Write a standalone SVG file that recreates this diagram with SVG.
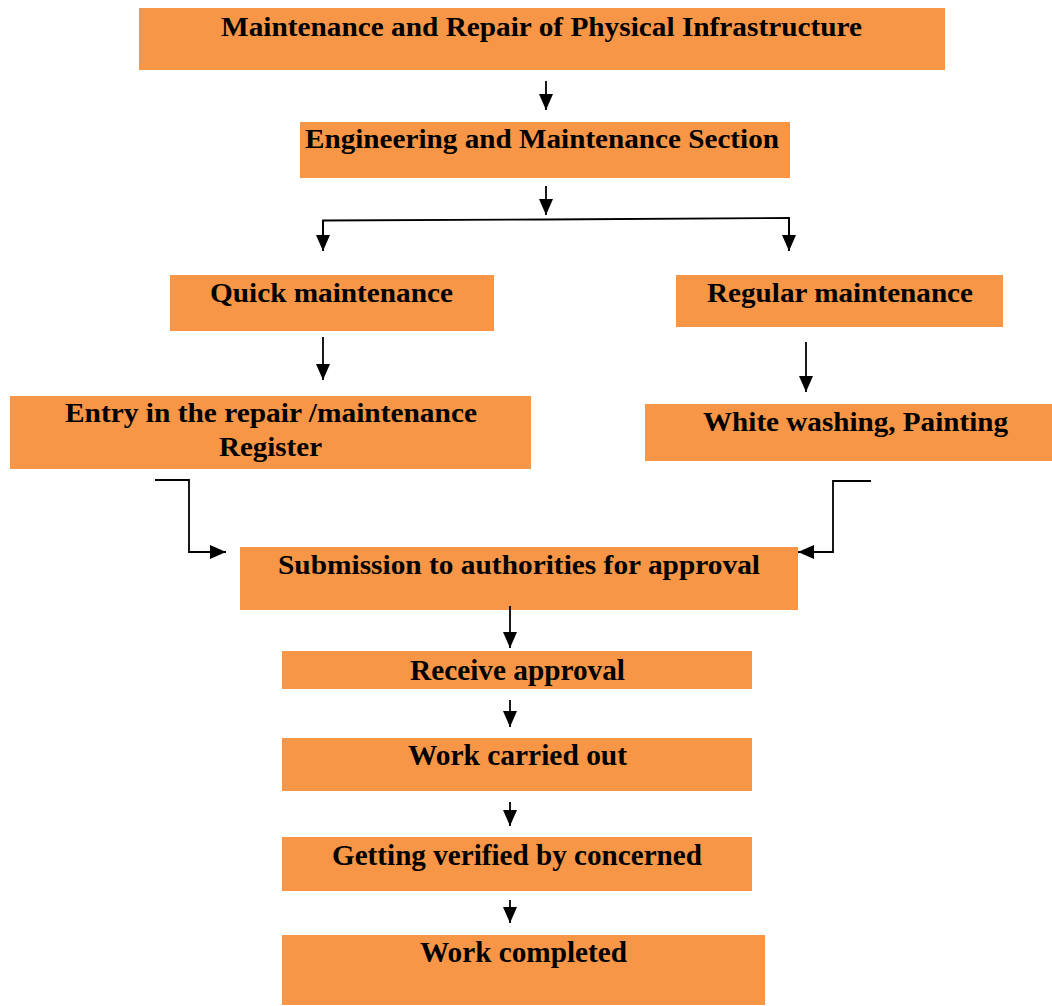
<svg xmlns="http://www.w3.org/2000/svg" width="1052" height="1006" viewBox="0 0 1052 1006">
<style>
.box{fill:#F79646}
.t{font-family:"Liberation Serif","Times New Roman",serif;font-weight:bold;fill:#000;text-anchor:middle}
.a{fill:none;stroke:#000;stroke-width:1.8}
</style>
<defs>
<marker id="ah" viewBox="0 0 16 14" refX="16" refY="7" markerWidth="16" markerHeight="14" markerUnits="userSpaceOnUse" orient="auto">
<path d="M0,0 L16,7 L0,14 Z" fill="#000"/>
</marker>
</defs>
<rect width="1052" height="1006" fill="#fff"/>
<g id="n1"><rect class="box" x="139" y="8" width="806" height="62"/><text class="t" x="541.5" y="36" font-size="27" textLength="641" lengthAdjust="spacingAndGlyphs">Maintenance and Repair of Physical Infrastructure</text></g>
<g id="n2"><rect class="box" x="300" y="122" width="490" height="56"/><text class="t" x="542" y="148" font-size="27" textLength="474" lengthAdjust="spacingAndGlyphs">Engineering and Maintenance Section</text></g>
<g id="n3"><rect class="box" x="170" y="275" width="324" height="56"/><text class="t" x="331.5" y="302" font-size="27" textLength="243" lengthAdjust="spacingAndGlyphs">Quick maintenance</text></g>
<g id="n4"><rect class="box" x="676" y="275" width="327" height="52"/><text class="t" x="840" y="302" font-size="27" textLength="266" lengthAdjust="spacingAndGlyphs">Regular maintenance</text></g>
<g id="n5"><rect class="box" x="10" y="396" width="521" height="73"/><text class="t" x="271" y="422" font-size="27" textLength="412" lengthAdjust="spacingAndGlyphs">Entry in the repair /maintenance</text><text class="t" x="270.5" y="456" font-size="27" textLength="103" lengthAdjust="spacingAndGlyphs">Register</text></g>
<g id="n6"><rect class="box" x="645" y="404" width="407" height="57"/><text class="t" x="855.5" y="431" font-size="27" textLength="305" lengthAdjust="spacingAndGlyphs">White washing, Painting</text></g>
<g id="n7"><rect class="box" x="240" y="547" width="558" height="63"/><text class="t" x="519" y="574" font-size="27" textLength="482" lengthAdjust="spacingAndGlyphs">Submission to authorities for approval</text></g>
<g id="n8"><rect class="box" x="282" y="651" width="470" height="38"/><text class="t" x="517.5" y="680" font-size="29" textLength="215" lengthAdjust="spacingAndGlyphs">Receive approval</text></g>
<g id="n9"><rect class="box" x="282" y="738" width="470" height="53"/><text class="t" x="517.5" y="765" font-size="29" textLength="219" lengthAdjust="spacingAndGlyphs">Work carried out</text></g>
<g id="n10"><rect class="box" x="282" y="837" width="470" height="54"/><text class="t" x="517" y="865" font-size="29" textLength="370" lengthAdjust="spacingAndGlyphs">Getting verified by concerned</text></g>
<g id="n11"><rect class="box" x="282" y="935" width="483" height="70"/><text class="t" x="523.5" y="962" font-size="29" textLength="207" lengthAdjust="spacingAndGlyphs">Work completed</text></g>
<g id="connectors">
<path class="a" d="M546,81 V110" marker-end="url(#ah)"/>
<path class="a" d="M546,186 V215" marker-end="url(#ah)"/>
<path class="a" d="M323,251 V220.5 L546,219.5 L789,218 V251"/>
<path class="a" d="M323,221 V251" marker-end="url(#ah)"/>
<path class="a" d="M789,218 V251" marker-end="url(#ah)"/>
<path class="a" d="M323,337 V380" marker-end="url(#ah)"/>
<path class="a" d="M806,342 V392" marker-end="url(#ah)"/>
<path class="a" d="M155,480 H189 V552 H226" marker-end="url(#ah)"/>
<path class="a" d="M871,481 H833 V552 H798" marker-end="url(#ah)"/>
<path class="a" d="M510,606 V648" marker-end="url(#ah)"/>
<path class="a" d="M510,700 V727" marker-end="url(#ah)"/>
<path class="a" d="M510,802 V826" marker-end="url(#ah)"/>
<path class="a" d="M510,900 V923" marker-end="url(#ah)"/>
</g>
</svg>
